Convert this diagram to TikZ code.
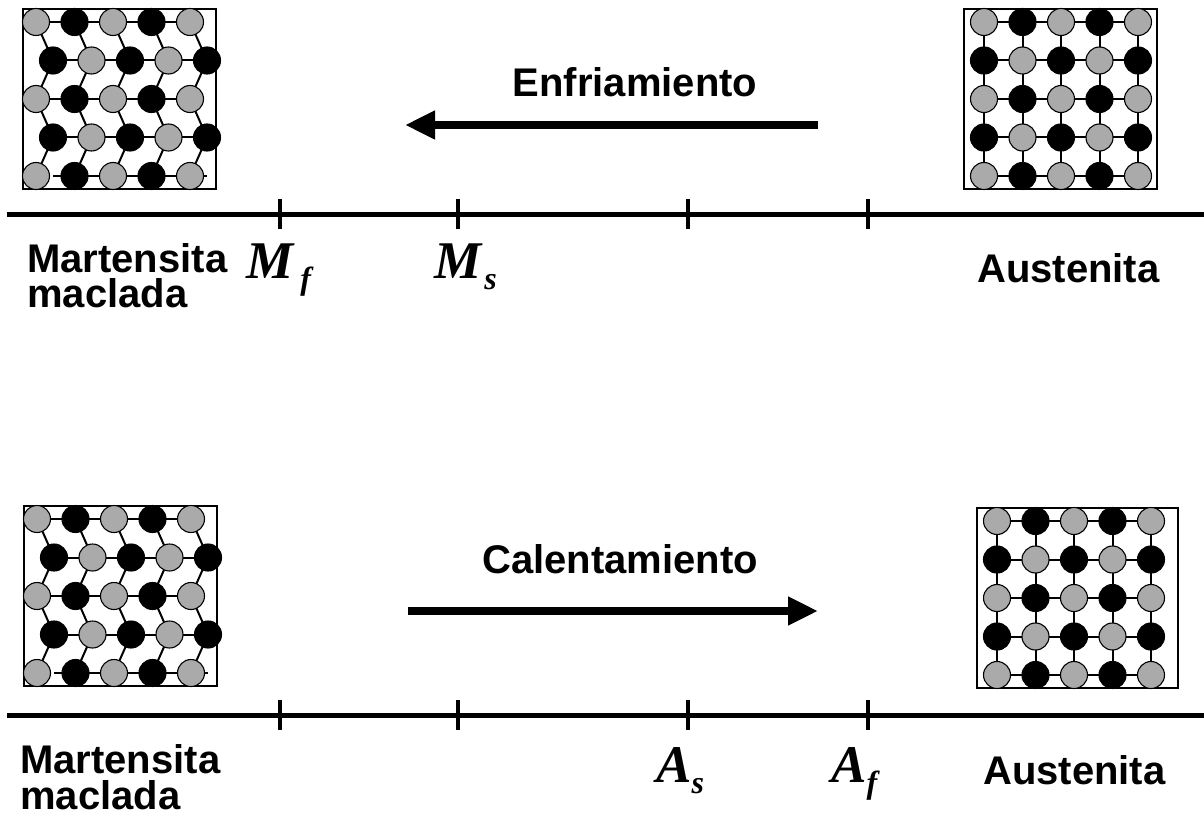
\documentclass[tikz,border=0pt]{standalone}
\usepackage{fontspec}
\setmainfont{Liberation Sans}
\newfontfamily\symfont{Liberation Serif}
\usetikzlibrary{arrows.meta}
\pgfdeclarelayer{bonds}
\pgfsetlayers{bonds,main}
\definecolor{atomgrey}{RGB}{170,170,170}

% critical temperature symbol: letter, subscript, gap
\newcommand\critT[3]{{\symfont\bfseries\itshape\fontsize{53}{53}\selectfont #1\hspace{#3}\raisebox{-11pt}{\fontsize{32}{32}\selectfont #2}}}

\tikzset{
  x=1pt, y=-1pt,
  atom/.style={circle, draw=black, line width=1.1pt, minimum size=27pt, inner sep=0pt},
  bond/.style={line width=2pt},
  cellframe/.style={draw=black, line width=1.2pt},
  axisline/.style={line width=5pt},
  tickmark/.style={line width=4pt},
  bigarrow/.style={line width=8pt, -{Triangle[length=30pt,width=27pt]}},
  phase/.style={font=\bfseries\fontsize{40}{40}\selectfont, inner sep=0pt,
    text height=29pt, text depth=0pt, anchor=base west},
  temp/.style={inner sep=0pt, anchor=base west},
  % twinned martensite cell: rows alternately shifted, zigzag bonds
  pics/martensite/.style={code={
    \draw[cellframe] (0,0) rectangle (193,180);
    \foreach \i in {0,...,4}{
      \foreach \j in {0,...,4}{
        \ifodd\numexpr\i+\j\relax \def\fillc{black}\else\def\fillc{atomgrey}\fi
        \node[atom, fill=\fillc] (-a\i\j) at ({13+38.5*\j+17*mod(\i,2)},{13+38.5*\i}) {};
      }
    }
    \begin{pgfonlayer}{bonds}
      \foreach \i in {0,...,3}{
        \draw[bond] (-a\i0.center) -- (-a\i4.center);
        \pgfmathtruncatemacro\k{\i+1}
        \foreach \j in {0,...,4}{
          \draw[bond] (-a\i\j.center) -- (-a\k\j.center);
        }
      }
      \draw[bond] (-a30.center |- -a40.center) -- (-a34.center |- -a40.center);
    \end{pgfonlayer}
  }},
  % austenite cell: square lattice
  pics/austenite/.style={code={
    \draw[cellframe] (0,0) rectangle (#1,180);
    \foreach \i in {0,...,4}{
      \foreach \j in {0,...,4}{
        \ifodd\numexpr\i+\j\relax \def\fillc{black}\else\def\fillc{atomgrey}\fi
        \node[atom, fill=\fillc] (-a\i\j) at ({20+38.5*\j},{13+38.5*\i}) {};
      }
    }
    \begin{pgfonlayer}{bonds}
      \foreach \i in {0,...,4}{
        \draw[bond] (-a\i0.center) -- (-a\i4.center);
        \draw[bond] (-a0\i.center) -- (-a4\i.center);
      }
    \end{pgfonlayer}
  }},
}

\begin{document}
\begin{tikzpicture}
\useasboundingbox (0,0) rectangle (1204,829);

% ---------- cooling ----------
\pic (martA) at (23,9) {martensite};
\pic (austA) at (964,9) {austenite=193};

\coordinate (axA-l) at (7,214);
\coordinate (axA-r) at (1204,214);
\draw[axisline] (axA-l) -- (axA-r);
\foreach \n/\x in {1/280,2/458,3/688,4/868}{
  \coordinate (tA\n-t) at (\x,199);
  \coordinate (tA\n-b) at (\x,229);
  \draw[tickmark] (tA\n-t) -- (tA\n-b);
}

\node[phase] (martA-l1) at (27,272) {Martensita};
\node[phase] (martA-l2) at (27,307) {maclada};
\node[phase] (austA-l) at (977,282) {Austenita};
\node[temp] (Mf) at (246,278) {\critT{M}{f}{7pt}};
\node[temp] (Ms) at (434,278) {\critT{M}{s}{3pt}};

\node[phase, anchor=base] (cool) at (635,97) {Enfriamiento};
\coordinate (coolS) at (818,125);
\coordinate (coolE) at (405,125);
\draw[bigarrow] (coolS) -- (coolE);

% ---------- heating ----------
\pic (martB) at (24,506) {martensite};
\pic (austB) at (977,508) {austenite=201};

\coordinate (axB-l) at (7,715);
\coordinate (axB-r) at (1204,715);
\draw[axisline] (axB-l) -- (axB-r);
\foreach \n/\x in {1/280,2/458,3/688,4/868}{
  \coordinate (tB\n-t) at (\x,700);
  \coordinate (tB\n-b) at (\x,730);
  \draw[tickmark] (tB\n-t) -- (tB\n-b);
}

\node[phase] (martB-l1) at (20,773) {Martensita};
\node[phase] (martB-l2) at (20,809) {maclada};
\node[phase] (austB-l) at (983,784) {Austenita};
\node[temp] (As) at (656,782) {\critT{A}{s}{0pt}};
\node[temp] (Af) at (831,782) {\critT{A}{f}{0pt}};

\node[phase, anchor=base] (heat) at (620,573) {Calentamiento};
\coordinate (heatS) at (408,611);
\coordinate (heatE) at (818,611);
\draw[bigarrow] (heatS) -- (heatE);
\end{tikzpicture}
\end{document}
